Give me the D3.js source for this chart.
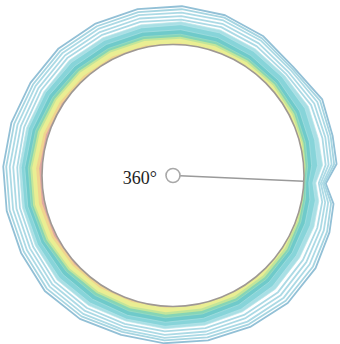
<!DOCTYPE html>
<html>
<head>
<meta charset="utf-8">
<script src="https://cdn.jsdelivr.net/npm/d3@7"></script>
<style>
  html, body { margin: 0; padding: 0; background: #ffffff; }
  svg { display: block; }
</style>
</head>
<body>
<svg id="chart" width="340" height="344"></svg>
<script>
// Polar sample directions (degrees, counter-clockwise from +x)
const angles = [357, 4, 14, 27, 42, 57, 72, 87, 102, 117, 132, 147, 162, 177,
                192, 207, 222, 237, 252, 267, 282, 297, 312, 327, 340, 350];

// Contour positions: distance from the wall at each direction, inner to outer
const level1  = [-2,-2,-2,-2,-2,-2,-1,-1,-1,0,0.5,1.5,2.5,3,3,2.5,1.5,0.5,0,-1,-1,-2,-2,-2,-2,-2];
const level2  = [-1,-1,-1,0,0,0.5,1,1.5,2,2.5,3,4,5,6,6,5,4,3,2,1.5,1,0.5,0,-1,-1,-1];
const level3  = [0,1,2,3,3.5,4,5,6,6.5,7,7.5,8,9,10,10,9,8,7,6.5,6,5,4.5,3.5,2.5,1.5,0.5];
const level4  = [0.5,2,3.5,5,5.5,6,7,8,8.5,9,9.5,10,11,12,12,11,10,9,8.5,8.5,7.5,7,6,5,3,1.5];
const level5  = [2,4,5.5,7,7.5,8,9.5,10.5,11,11.5,12,12.5,13.5,14,14,13.5,12.5,12,11.5,11.5,10.5,9.5,8.5,7,5,3.5];
const level6  = [5,8,9.5,11,11,12,14,15,15.5,16,16,16.5,17,17.5,17.5,17,17,16.5,16,16,15,14,12.5,11,9.5,8];
const level7  = [9,14,15,17,16,17,19,20,20,20.5,21,21,21,21,21,21,22,21,20,20,19.5,19,18,16,15,13.5];
const level8  = [12,19,19,21,19,20,22,23,23,23.5,24,23,23,23,23,23.5,25,24,22,22.5,22,22,22,20,19,17];
const level9  = [15,22,23,24,21,23,25,25,26,26.5,27,26,25.5,25,25.5,26,28,27,25,25,25,25.5,26,24,22.5,20.5];
const level10 = [17,25,26,27.5,24,26.5,28.5,28.5,29.5,30,30.5,29.5,29,29,29,29.5,31.5,30.5,28,28.5,28.5,29,30,28,26,23.5];
const level11 = [19,28,29,31,27,30,32,32,33,33.5,34,33,32.5,32.5,32.5,33,35,34,31,31.5,31.5,33,34,32,29.5,26.5];
const level12 = [20.5,30.5,31.5,34,29,32.5,35,35.5,36,36.5,37,36,36,36,36,36.5,38.5,37,33.5,34,34.5,36,37.5,36,33,29.5];
const level13 = [22,33,33.5,36.5,31,35,37.5,38.5,39,39.5,40,39,39,39,39,39.5,41.5,40,36.5,37,37.5,39,40.5,39,35.5,32];

const levels = [level1, level2, level3, level4, level5, level6, level7,
                level8, level9, level10, level11, level12, level13];

// Band colour inside each contour (innermost first); outer contours are lines only
const bandFill   = ["#e2a9a2", "#f0d48f", "#eaee93", "#c2e59b", "#86d5b6", "#6fcaca",
                    "#87d4d9", "#a9dfe5", "#ffffff", "#ffffff", "#ffffff", "#ffffff", "#ffffff"];
const bandStroke = ["none", "none", "none", "none", "#9edcc6", "#a9e0e1", "#b8e5e9",
                    "#bde6ea", "#acdae5", "#acdae5", "#acdae5", "#a6d5e1", "#92c0d6"];

// Reference direction marker
const refAngle = 357.5;
const refLabel = "360°";

const svg = d3.select("#chart");
const cx = 173, cy = 175.5;

// distance from wall -> pixel radius
const rScale = d3.scaleLinear().domain([0, 40]).range([131, 171]);
const toRad = deg => (90 - deg) * Math.PI / 180;

const radial = d3.lineRadial()
  .angle(d => toRad(d[0]))
  .radius(d => rScale(d[1]))
  .curve(d3.curveLinearClosed);

const g = svg.append("g").attr("transform", `translate(${cx},${cy})`);

// paint outermost contour first so inner bands sit on top
for (let k = levels.length - 1; k >= 0; k--) {
  const pts = angles.map((a, i) => [a, levels[k][i]]);
  g.append("path")
    .attr("d", radial(pts))
    .attr("fill", bandFill[k])
    .attr("stroke", bandStroke[k])
    .attr("stroke-width", k >= 8 ? 1.8 : 0.7)
    .attr("stroke-linejoin", "round");
}

// wall of the domain
g.append("circle")
  .attr("r", rScale(0))
  .attr("fill", "#ffffff")
  .attr("stroke", "#9e9893")
  .attr("stroke-width", 1.6);

// reference radius from centre to wall
const ra = toRad(refAngle);
const markerR = 7;
g.append("line")
  .attr("x1", markerR * Math.sin(ra))
  .attr("y1", -markerR * Math.cos(ra))
  .attr("x2", rScale(0) * Math.sin(ra))
  .attr("y2", -rScale(0) * Math.cos(ra))
  .attr("stroke", "#9a9a9a")
  .attr("stroke-width", 1.4);

g.append("circle")
  .attr("r", markerR)
  .attr("fill", "#ffffff")
  .attr("stroke", "#a8a8a8")
  .attr("stroke-width", 1.6);

g.append("text")
  .attr("x", -16)
  .attr("y", 8)
  .attr("text-anchor", "end")
  .attr("font-family", "'Liberation Serif', 'Times New Roman', serif")
  .attr("font-size", 18)
  .attr("fill", "#1e1e1e")
  .text(refLabel);
</script>
</body>
</html>
